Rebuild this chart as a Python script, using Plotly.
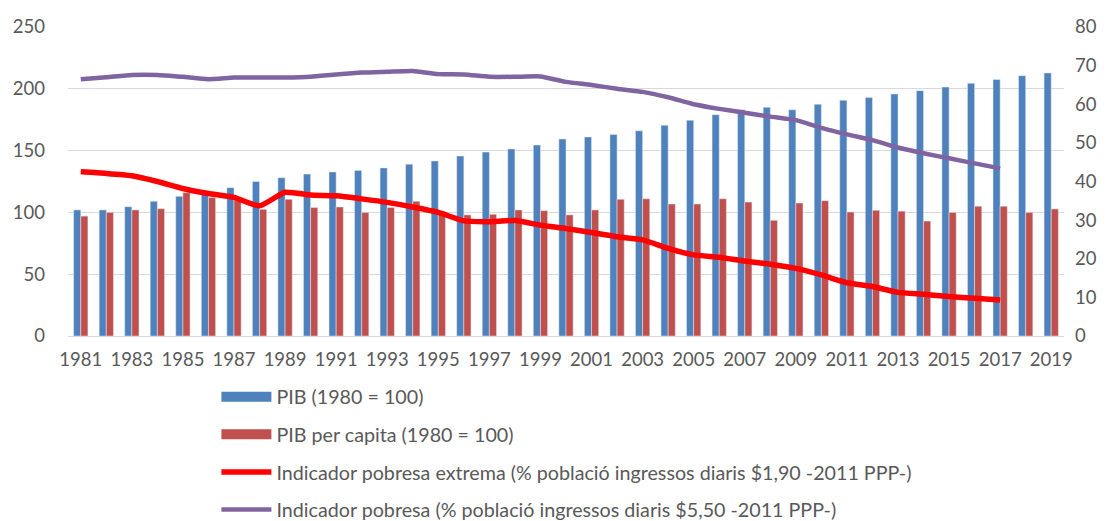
import plotly.graph_objects as go

years = [str(y) for y in range(1981, 2020)]

pib = [102, 102, 104.6, 109, 113, 117, 120, 125, 128, 131, 132.7, 134, 136, 139,
       141.6, 145.6, 148.8, 151.3, 154.5, 159.4, 161, 163, 166, 170.5, 174.5, 179,
       183, 185, 183, 187.5, 190.7, 192.9, 195.8, 198.5, 201.4, 204.4, 207.6, 210.6, 212.8]

pib_pc = [97, 100, 102, 103, 116, 112, 110, 102.5, 110.6, 104, 104.4, 100, 104, 109,
          100.6, 98, 98.5, 102, 101.4, 98, 102, 110.6, 111, 106.8, 106.8, 111, 108.4,
          93.6, 107.6, 109.5, 100.3, 101.7, 101, 93, 100, 105, 105, 100, 102.8]

pob_ext = [42.5, 42.1, 41.5, 40.0, 38.2, 36.9, 35.9, 33.7, 37.2, 36.5, 36.3, 35.5, 34.6, 33.4,
           32.0, 29.8, 29.6, 29.9, 28.7, 27.8, 26.8, 25.7, 24.9, 22.7, 21.0, 20.4, 19.4,
           18.6, 17.5, 15.8, 13.8, 12.8, 11.3, 10.8, 10.2, 9.8, 9.3, None, None]

pob = [66.5, 67.0, 67.6, 67.6, 67.1, 66.5, 66.9, 66.9, 66.9, 67.1, 67.7, 68.2, 68.4, 68.6,
       67.8, 67.7, 67.1, 67.1, 67.2, 65.8, 65.0, 64.0, 63.2, 61.8, 60.0, 58.8, 57.8,
       56.8, 55.9, 53.9, 52.2, 50.7, 48.8, 47.3, 46.0, 44.7, 43.4, None, None]

tick_years = [str(y) for y in range(1981, 2020, 2)]

names = ["PIB (1980 = 100)",
         "PIB per capita (1980 = 100)",
         "Indicador pobresa extrema (% població ingressos diaris $1,90 -2011 PPP-)",
         "Indicador pobresa (% població ingressos diaris $5,50 -2011 PPP-)"]

BLUE = "#4F81BD"
REDBAR = "#C0504D"
RED = "#FF0000"
PURPLE = "#8064A2"
TXT = "#595959"
FONT = "Lato"
TICK = 18.5

fig = go.Figure()
fig.add_trace(go.Bar(x=years, y=pib, marker_color=BLUE, showlegend=False, name=names[0]))
fig.add_trace(go.Bar(x=years, y=pib_pc, marker_color=REDBAR, showlegend=False, name=names[1]))
fig.add_trace(go.Scatter(x=years, y=pob_ext, yaxis="y2", mode="lines",
                         line=dict(color=RED, width=5.5, shape="spline", smoothing=0.5),
                         showlegend=False, name=names[2]))
fig.add_trace(go.Scatter(x=years, y=pob, yaxis="y2", mode="lines",
                         line=dict(color=PURPLE, width=4.5, shape="spline", smoothing=0.5),
                         showlegend=False, name=names[3]))

# legend entries
leg_styles = [(BLUE, 10), (REDBAR, 10), (RED, 5.5), (PURPLE, 4.5)]
for i, (nm, (c, w)) in enumerate(zip(names, leg_styles)):
    fig.add_trace(go.Scatter(x=[None], y=[None], mode="lines", name=nm,
                             line=dict(color=c, width=w), legendgroup=f"g{i}",
                             yaxis="y2"))

fig.update_layout(
    width=1107, height=540,
    margin=dict(l=60, r=51, t=19, b=212),
    paper_bgcolor="white", plot_bgcolor="white",
    font=dict(family=FONT, size=TICK, color=TXT),
    barmode="group", bargap=0.44, bargroupgap=0,
    xaxis=dict(type="category", tickmode="array", tickvals=tick_years, ticktext=tick_years,
               showgrid=False, showline=True, linecolor="#D9D9D9", linewidth=1,
               ticks="", tickfont=dict(size=TICK, color=TXT), automargin=False,
               ticklabelstandoff=7),
    yaxis=dict(range=[0, 250], tickvals=[0, 50, 100, 150, 200, 250], showgrid=True,
               gridcolor="#D9D9D9", gridwidth=1, zeroline=False, ticks="",
               tickfont=dict(size=TICK, color=TXT), automargin=False,
               ticklabelstandoff=22),
    yaxis2=dict(range=[0, 80], tickvals=[0, 10, 20, 30, 40, 50, 60, 70, 80], overlaying="y",
                side="right", showgrid=False, zeroline=False, ticks="",
                tickfont=dict(size=TICK, color=TXT), automargin=False,
                ticklabelstandoff=10),
    legend=dict(orientation="v", x=0.149, xanchor="left", y=-0.134, yanchor="top",
                itemwidth=50, tracegroupgap=9, traceorder="grouped",
                font=dict(size=19.7, color=TXT), bgcolor="rgba(0,0,0,0)"),
)

fig.write_html("out.html")
